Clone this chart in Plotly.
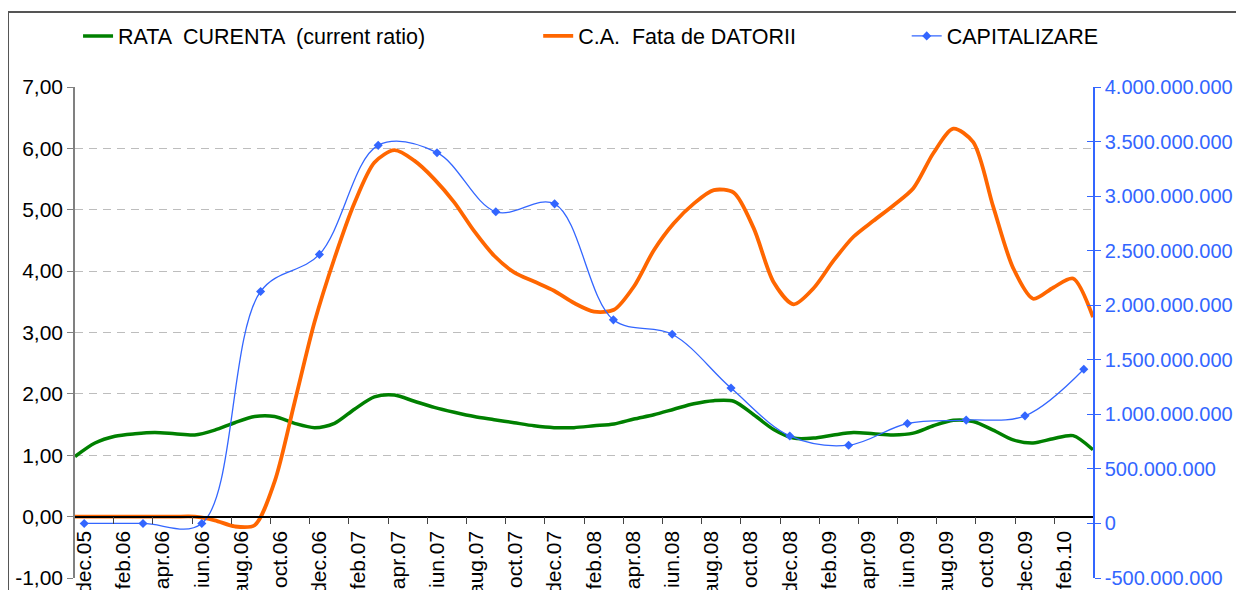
import plotly.graph_objects as go

# ---------------- data ----------------
months = ["dec.05", "ian.06", "feb.06", "mar.06", "apr.06", "mai.06", "iun.06", "iul.06",
          "aug.06", "sep.06", "oct.06", "noi.06", "dec.06", "ian.07", "feb.07", "mar.07",
          "apr.07", "mai.07", "iun.07", "iul.07", "aug.07", "sep.07", "oct.07", "noi.07",
          "dec.07", "ian.08", "feb.08", "mar.08", "apr.08", "mai.08", "iun.08", "iul.08",
          "aug.08", "sep.08", "oct.08", "noi.08", "dec.08", "ian.09", "feb.09", "mar.09",
          "apr.09", "mai.09", "iun.09", "iul.09", "aug.09", "sep.09", "oct.09", "noi.09",
          "dec.09", "ian.10", "feb.10", "mar.10"]

tick_labels = ["dec.05", "feb.06", "apr.06", "iun.06", "aug.06", "oct.06", "dec.06",
               "feb.07", "apr.07", "iun.07", "aug.07", "oct.07", "dec.07", "feb.08",
               "apr.08", "iun.08", "aug.08", "oct.08", "dec.08", "feb.09", "apr.09",
               "iun.09", "aug.09", "oct.09", "dec.09", "feb.10"]

rata_curenta = [0.98, 1.20, 1.31, 1.35, 1.37, 1.35, 1.33, 1.41, 1.53, 1.63,
                1.63, 1.52, 1.45, 1.52, 1.75, 1.95, 1.98, 1.88, 1.78, 1.70,
                1.63, 1.58, 1.53, 1.48, 1.45, 1.45, 1.48, 1.51, 1.59, 1.66,
                1.75, 1.84, 1.89, 1.88, 1.66, 1.42, 1.28, 1.28, 1.33, 1.37,
                1.35, 1.33, 1.36, 1.48, 1.57, 1.55, 1.41, 1.25, 1.20, 1.27,
                1.32, 1.09]

ca_datorii = [0.00, 0.00, 0.00, 0.00, 0.00, 0.00, 0.00, -0.06, -0.16, -0.14,
              0.57, 1.86, 3.17, 4.21, 5.11, 5.77, 5.97, 5.80, 5.50, 5.12,
              4.65, 4.25, 3.98, 3.83, 3.68, 3.48, 3.34, 3.37, 3.75, 4.34,
              4.78, 5.10, 5.32, 5.28, 4.70, 3.82, 3.46, 3.72, 4.17, 4.56,
              4.82, 5.07, 5.35, 5.92, 6.32, 6.10, 5.05, 4.05, 3.55, 3.73,
              3.88, 3.25]

cap_months = ["dec.05", "mar.06", "iun.06", "sep.06", "dec.06", "mar.07", "iun.07",
              "sep.07", "dec.07", "mar.08", "iun.08", "sep.08", "dec.08", "mar.09",
              "iun.09", "sep.09", "dec.09", "mar.10"]
capitalizare = [0, 0, 0, 2126000000, 2466000000, 3465000000, 3398000000,
                2856000000, 2929000000, 1866000000, 1734000000, 1241000000,
                802000000, 717000000, 916000000, 947000000, 986000000, 1413000000]

left_vals = [-1, 0, 1, 2, 3, 4, 5, 6, 7]
left_text = ["-1,00", "0,00", "1,00", "2,00", "3,00", "4,00", "5,00", "6,00", "7,00"]
right_vals = [-500000000, 0, 500000000, 1000000000, 1500000000, 2000000000,
              2500000000, 3000000000, 3500000000, 4000000000]
right_text = ["-500.000.000", "0", "500.000.000", "1.000.000.000", "1.500.000.000",
              "2.000.000.000", "2.500.000.000", "3.000.000.000", "3.500.000.000",
              "4.000.000.000"]

# ---------------- style ----------------
FONT = "Liberation Sans, Arial, sans-serif"
GREEN = "#008000"
ORANGE = "#FF6600"
BLUE = "#3366FF"

fig = go.Figure()
fig.add_trace(go.Scatter(
    x=months, y=rata_curenta, name="RATA  CURENTA  (current ratio)", mode="lines",
    line=dict(color=GREEN, width=3.5, shape="spline", smoothing=0.8),
    xaxis="x", yaxis="y", legend="legend"))
fig.add_trace(go.Scatter(
    x=months, y=ca_datorii, name="C.A.  Fata de DATORII", mode="lines",
    line=dict(color=ORANGE, width=3.8, shape="spline", smoothing=0.8),
    xaxis="x", yaxis="y", legend="legend2"))
fig.add_trace(go.Scatter(
    x=[months.index(m) for m in cap_months], y=capitalizare, name="CAPITALIZARE",
    mode="lines+markers",
    line=dict(color=BLUE, width=1.3, shape="spline", smoothing=1.0),
    marker=dict(symbol="diamond", size=7, color=BLUE),
    xaxis="x2", yaxis="y2", legend="legend3"))
# empty helper trace so the inner tick marks of the right axis get drawn
fig.add_trace(go.Scatter(x=[], y=[], xaxis="x2", yaxis="y3", showlegend=False,
                         hoverinfo="skip"))

leg_common = dict(orientation="h", yanchor="middle", y=1.104, xanchor="left",
                  bgcolor="rgba(0,0,0,0)", font=dict(family=FONT, size=21.5, color="black"),
                  itemwidth=30)

fig.update_layout(
    width=1236, height=582,
    margin=dict(l=67, r=150.5, t=79, b=12, autoexpand=False),
    paper_bgcolor="white", plot_bgcolor="white",
    font=dict(family=FONT, size=21, color="black"),
    showlegend=True,
    legend=dict(leg_common, x=0.003),
    legend2=dict(leg_common, x=0.455),
    legend3=dict(leg_common, x=0.817),
    xaxis=dict(type="category", categoryarray=months, range=[0, len(months) - 1],
               visible=False),
    xaxis2=dict(overlaying="x", anchor="free", position=0.125, type="linear",
                range=[-0.47, len(months) - 1 + 0.47],
                tickmode="array",
                tickvals=[months.index(t) for t in tick_labels], ticktext=tick_labels,
                tickangle=-90, ticks="", showgrid=False, zeroline=False,
                showline=True, linecolor="black", linewidth=1.5,
                ticklabelstandoff=5,
                tickfont=dict(family=FONT, size=21, color="black"),
                minor=dict(ticks="outside", tick0=-0.5, dtick=2, ticklen=7,
                           tickcolor="#444444", tickwidth=1, showgrid=False)),
    yaxis=dict(range=[-1, 7], tickmode="array", tickvals=left_vals, ticktext=left_text,
               showgrid=True, gridcolor="#BDBDBD", griddash="8px,6px", gridwidth=1,
               zeroline=False, showline=True, linecolor="#808080", linewidth=1.5,
               ticks="outside", ticklen=6, tickcolor="#808080",
               tickfont=dict(family=FONT, size=21, color="black")),
    yaxis2=dict(overlaying="y", side="right", anchor="x2", range=[-500000000, 4000000000],
                tickmode="array", tickvals=right_vals, ticktext=right_text,
                showgrid=False, zeroline=False, showline=True, linecolor=BLUE,
                linewidth=1.5, ticks="outside", ticklen=6, tickcolor=BLUE,
                tickfont=dict(family=FONT, size=20, color=BLUE)),
    yaxis3=dict(overlaying="y", side="right", anchor="x2", range=[-500000000, 4000000000],
                tickmode="array", tickvals=right_vals, showticklabels=False,
                showgrid=False, zeroline=False, showline=False,
                ticks="inside", ticklen=6, tickcolor=BLUE),
    shapes=[dict(type="rect", xref="paper", yref="paper",
                 x0=-0.0658, x1=1.1448, y0=-0.06, y1=1.1527,
                 line=dict(color="#555555", width=2), layer="above")],
)

fig.write_html("out.html")
